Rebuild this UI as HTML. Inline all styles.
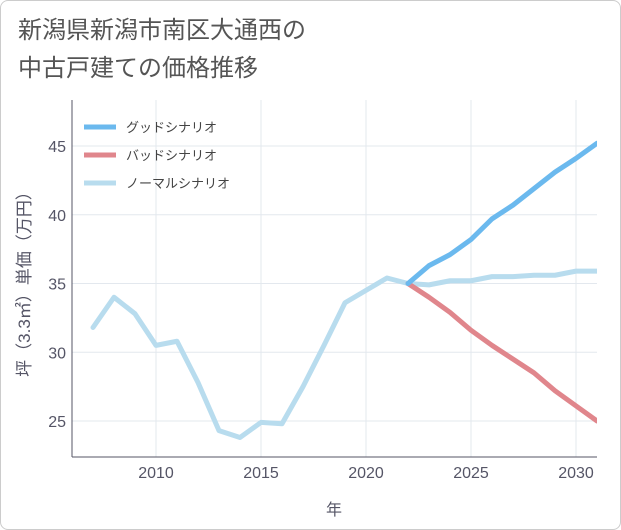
<!DOCTYPE html>
<html><head><meta charset="utf-8"><style>
body{margin:0;background:#fff;}
#wrap{position:relative;width:621px;height:530px;font-family:"Liberation Sans","Noto Sans CJK JP",sans-serif;}
#card{position:absolute;left:0;top:0;width:619px;height:528px;border:1px solid #ccc;border-radius:8px;background:#fff;}
#title{position:absolute;left:18px;top:12px;font-size:24px;line-height:38px;color:#555;}
svg{position:absolute;left:0;top:0;}
</style></head><body>
<div id="wrap">
<div id="card"></div>
<div id="title">新潟県新潟市南区大通西の<br>中古戸建ての価格推移</div>
<svg id="chart" width="621" height="530"></svg>
</div>
<script>
const years=[2007,2008,2009,2010,2011,2012,2013,2014,2015,2016,2017,2018,2019,2020,2021,2022,2023,2024,2025,2026,2027,2028,2029,2030,2031];
const normal=[31.8,34.0,32.8,30.5,30.8,27.8,24.3,23.8,24.9,24.8,27.5,30.5,33.6,34.5,35.4,35.0,34.9,35.2,35.2,35.5,35.5,35.6,35.6,35.9,35.9];
const futureYears=[2022,2023,2024,2025,2026,2027,2028,2029,2030,2031];
const good=[35.0,36.3,37.1,38.2,39.7,40.7,41.9,43.1,44.1,45.2];
const bad=[35.0,34.0,32.9,31.6,30.5,29.5,28.5,27.2,26.1,25.0];
const xTicks=[2010,2015,2020,2025,2030];
const yTicks=[25,30,35,40,45];
const legendLabels=["グッドシナリオ","バッドシナリオ","ノーマルシナリオ"];
const colors=["#6bb9ee","#e0868c","#b8dcee"];

const L=72,R=597,T=100,B=457;
const x=v=>156+(v-2010)*21;
const y=v=>146+(45-v)*13.75;
const NS="http://www.w3.org/2000/svg";
const svg=document.getElementById('chart');
function mk(t,a){const e=document.createElementNS(NS,t);for(const k in a)e.setAttribute(k,a[k]);svg.appendChild(e);return e;}
let bg=mk('rect',{x:L,y:T,width:R-L,height:B-T,fill:'#fff'});


xTicks.forEach(t=>{const g=mk('line',{x1:x(t),x2:x(t),y1:T,y2:B,stroke:'#e3e8ee'});


const l=mk('text',{x:x(t),y:478,'text-anchor':'middle','font-size':16,fill:'#556'});l.textContent=t;

});
yTicks.forEach(t=>{const g=mk('line',{x1:L,x2:R,y1:y(t),y2:y(t),stroke:'#e3e8ee'});


const l=mk('text',{x:66,y:y(t)+6,'text-anchor':'end','font-size':16,fill:'#556'});l.textContent=t;

});
let ax=mk('line',{x1:L,x2:R,y1:B,y2:B,stroke:'#556'});


let ay=mk('line',{x1:L,x2:L,y1:T,y2:B,stroke:'#556'});


const clip=mk('clipPath',{id:'cp'});const cr=document.createElementNS(NS,'rect');
cr.setAttribute('x',L);cr.setAttribute('y',T);cr.setAttribute('width',R-L);cr.setAttribute('height',B-T);clip.appendChild(cr);
function line(xs,vs,c,name){const p=mk('polyline',{points:xs.map((v,i)=>x(v)+','+y(vs[i])).join(' '),fill:'none',stroke:c,'stroke-width':5,'stroke-linejoin':'round','stroke-linecap':'round','clip-path':'url(#cp)'});

}
line(years,normal,colors[2],'normal-line');
line(futureYears,bad,colors[1],'bad-line');
line(futureYears,good,colors[0],'good-line');
legendLabels.forEach((s,i)=>{const yy=127+i*28;
const l=mk('line',{x1:84,x2:116,y1:yy,y2:yy,stroke:colors[i],'stroke-width':5});


const t=mk('text',{x:126,y:yy+5,'font-size':13,fill:'#444'});t.textContent=s;

});
const xt=mk('text',{x:334,y:515,'text-anchor':'middle','font-size':16,fill:'#556'});xt.textContent='年';


const yt=mk('text',{x:0,y:0,'text-anchor':'middle','font-size':17,fill:'#556',transform:'translate(30,280) rotate(-90)'});yt.textContent='坪（3.3㎡）単価（万円）';


</script>
</body></html>
